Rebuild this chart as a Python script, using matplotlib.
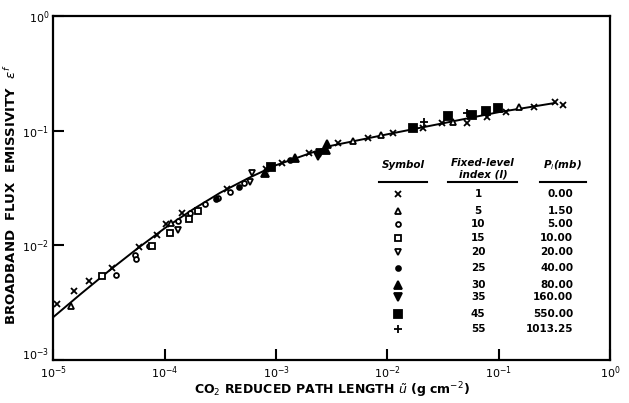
import matplotlib
matplotlib.use("Agg")
import matplotlib.pyplot as plt
from matplotlib.lines import Line2D
from matplotlib.transforms import ScaledTranslation

plt.rcParams["font.family"] = ["DejaVu Sans"]
plt.rcParams["mathtext.fontset"] = "dejavusans"

# ---- data: reduced path length u (g cm-2), emissivity ----
# level 1, p = 0.00 mb  (x)
u_l1 = [1.07e-5, 1.54e-5, 2.09e-5, 3.33e-5, 5.9e-5, 8.5e-5, 1.03e-4, 1.44e-4,
        3.6e-4, 8.1e-4, 1.12e-3, 1.99e-3, 3.63e-3, 6.7e-3, 1.12e-2, 2.08e-2,
        3.08e-2, 5.2e-2, 7.9e-2, 0.116, 0.208, 0.321, 0.377]
e_l1 = [3.08e-3, 4.0e-3, 4.84e-3, 6.3e-3, 9.7e-3, 1.22e-2, 1.53e-2, 1.93e-2,
        3.08e-2, 4.6e-2, 5.2e-2, 6.4e-2, 7.8e-2, 8.7e-2, 9.5e-2, 0.105,
        0.116, 0.117, 0.132, 0.146, 0.160, 0.179, 0.167]
# level 5, p = 1.50 mb  (open triangle up)
u_l5 = [1.44e-5, 1.13e-4, 4.9e-3, 8.8e-3, 3.9e-2, 0.153]
e_l5 = [2.96e-3, 1.57e-2, 8.2e-2, 9.2e-2, 0.120, 0.162]
# level 10, p = 5.00 mb  (small open circle)
u_l10 = [3.65e-5, 5.36e-5, 5.47e-5, 7.2e-5, 1.31e-4, 1.68e-4, 2.3e-4, 3.03e-4, 3.86e-4, 5.2e-4]
e_l10 = [5.5e-3, 8.3e-3, 7.6e-3, 9.9e-3, 1.63e-2, 1.90e-2, 2.28e-2, 2.57e-2, 2.94e-2, 3.48e-2]
# level 15, p = 10.00 mb  (open square)
u_l15 = [2.76e-5, 7.7e-5, 1.12e-4, 1.66e-4, 2.0e-4]
e_l15 = [5.4e-3, 9.8e-3, 1.29e-2, 1.69e-2, 1.99e-2]
# level 20, p = 20.00 mb  (open triangle down)
u_l20 = [1.32e-4, 5.8e-4, 6.05e-4]
e_l20 = [1.36e-2, 3.59e-2, 4.25e-2]
# level 25, p = 40.00 mb  (small filled circle)
u_l25 = [2.89e-4, 4.68e-4, 1.34e-3]
e_l25 = [2.52e-2, 3.21e-2, 5.5e-2]
# level 30, p = 80.00 mb  (filled triangle up)
u_l30 = [7.96e-4, 1.48e-3, 2.89e-3, 2.81e-3]
e_l30 = [4.25e-2, 5.8e-2, 7.6e-2, 6.8e-2]
# level 35, p = 160.00 mb  (filled triangle down)
u_l35 = [2.4e-3, 2.48e-3]
e_l35 = [6.0e-2, 6.4e-2]
# level 45, p = 550.00 mb  (filled square)
u_l45 = [9.1e-4, 1.71e-2, 3.53e-2, 5.8e-2, 7.7e-2, 9.8e-2]
e_l45 = [4.8e-2, 0.105, 0.134, 0.137, 0.149, 0.157]
# level 55, p = 1013.25 mb  (+)
u_l55 = [2.15e-2, 5.2e-2]
e_l55 = [0.120, 0.144]

# fitted curve
u_fit = [1e-5, 1.78e-5, 3.16e-5, 5.62e-5, 1e-4, 1.78e-4, 3.16e-4, 5.62e-4, 1e-3,
         3.16e-3, 1e-2, 3.16e-2, 0.1, 0.316]
e_fit = [2.37e-3, 3.8e-3, 6.0e-3, 9.3e-3, 1.41e-2, 2.05e-2, 2.88e-2, 3.85e-2, 5.0e-2,
         7.4e-2, 9.3e-2, 0.116, 0.145, 0.174]

levels = ["1", "5", "10", "15", "20", "25", "30", "35", "45", "55"]
pressures = ["0.00", "1.50", "5.00", "10.00", "20.00", "40.00", "80.00",
             "160.00", "550.00", "1013.25"]

# marker style per level: (marker, size, filled)
styles = [("x", 5, True), ("^", 5, False), ("o", 3.5, False), ("s", 5, False),
          ("v", 5, False), ("o", 3.5, True), ("^", 5.5, True), ("v", 5.5, True),
          ("s", 5.5, True), ("+", 6, True)]
series = [(u_l1, e_l1), (u_l5, e_l5), (u_l10, e_l10), (u_l15, e_l15), (u_l20, e_l20),
          (u_l25, e_l25), (u_l30, e_l30), (u_l35, e_l35), (u_l45, e_l45), (u_l55, e_l55)]

fig = plt.figure(figsize=(6.29, 4.03), dpi=100)
ax = fig.add_axes([0.0849, 0.1067, 0.8849, 0.8536])

ax.plot(u_fit, e_fit, color="black", lw=1.4, zorder=2)


def mk_kw(marker, size, filled):
    kw = dict(marker=marker, markersize=size, color="black", linestyle="none",
              markeredgewidth=1.3)
    if not filled:
        kw["markerfacecolor"] = "white"
    return kw


for (u, e), (m, s, f) in zip(series, styles):
    ax.plot(u, e, zorder=3, **mk_kw(m, s, f))

ax.set_xscale("log")
ax.set_yscale("log")
ax.set_xlim(1e-5, 1)
ax.set_ylim(1e-3, 1)
ax.set_xticks([1e-5, 1e-4, 1e-3, 1e-2, 1e-1, 1])
ax.set_yticks([1e-3, 1e-2, 1e-1, 1])
ax.minorticks_off()
ax.tick_params(direction="in", length=8, width=1.5, labelsize=8, pad=3)
for sp in ax.spines.values():
    sp.set_linewidth(1.6)

# lift the lowest y label a little so it clears the 10^-5 label, as in the original
lbl = ax.get_yticklabels()[0]
lbl.set_transform(lbl.get_transform() + ScaledTranslation(0, 5 / 72, fig.dpi_scale_trans))

ax.set_xlabel(r"CO$_2$ REDUCED PATH LENGTH $\tilde{u}$ (g cm$^{-2}$)",
              fontsize=9, fontweight="bold")
ax.xaxis.set_label_coords(0.5, -0.058)
ax.set_ylabel(r"BROADBAND  FLUX  EMISSIVITY  $\epsilon^f$",
              fontsize=9.5, fontweight="bold")
ax.yaxis.set_label_coords(-0.062, 0.48)

# ---- legend table ----
hdr = dict(transform=ax.transAxes, fontsize=7.5, fontweight="bold",
           fontstyle="italic", ha="center", va="center")
ax.text(0.628, 0.567, "Symbol", **hdr)
ax.text(0.772, 0.573, "Fixed-level", **hdr)
ax.text(0.772, 0.540, "index (l)", **hdr)
ax.text(0.915, 0.567, r"P$_l$(mb)", **hdr)
for x0, x1 in [(0.585, 0.671), (0.709, 0.833), (0.874, 0.957)]:
    ax.add_line(Line2D([x0, x1], [0.517, 0.517], transform=ax.transAxes,
                       color="black", lw=1.5))

row_y = [0.483, 0.433, 0.395, 0.355, 0.314, 0.267, 0.218, 0.183, 0.134, 0.090]
for y, lev, p, (m, s, f) in zip(row_y, levels, pressures, styles):
    ax.plot([0.619], [y], transform=ax.transAxes, clip_on=False, **mk_kw(m, s, f))
    ax.text(0.763, y, lev, transform=ax.transAxes, fontsize=7.5,
            fontweight="bold", ha="center", va="center")
    ax.text(0.934, y, p, transform=ax.transAxes, fontsize=7.5,
            fontweight="bold", ha="right", va="center")

fig.savefig("out.png", dpi=100, facecolor="white")
